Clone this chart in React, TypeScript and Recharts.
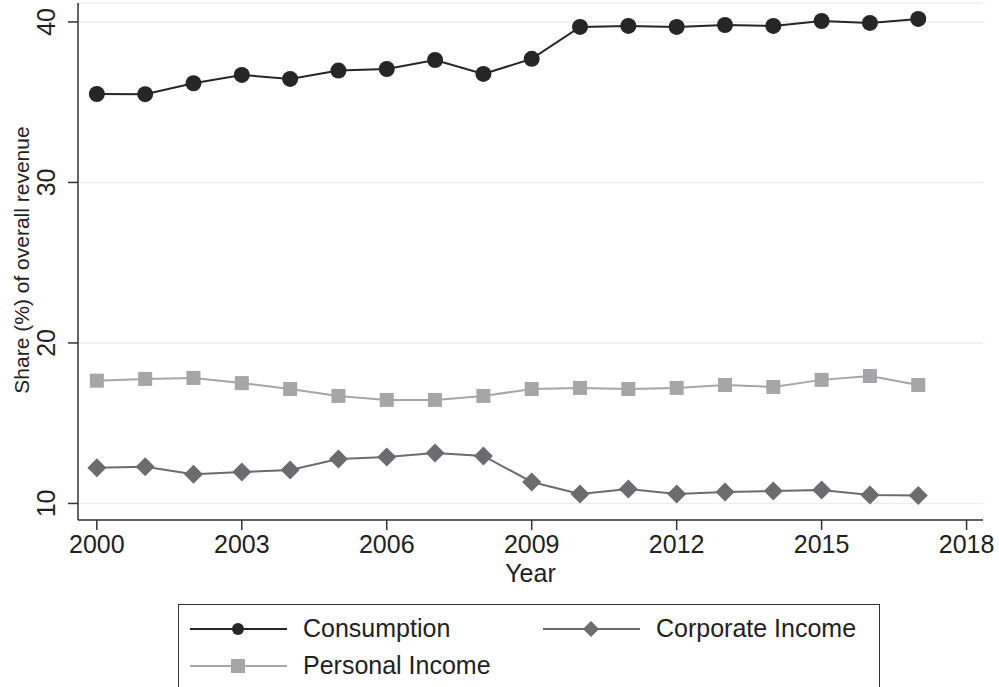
import React from 'react';
import { LineChart, Line, XAxis, YAxis, CartesianGrid } from 'recharts';

const years = [2000, 2001, 2002, 2003, 2004, 2005, 2006, 2007, 2008, 2009, 2010, 2011, 2012, 2013, 2014, 2015, 2016, 2017];
const consumption = [35.51, 35.5, 36.18, 36.7, 36.45, 36.97, 37.07, 37.63, 36.76, 37.7, 39.69, 39.75, 39.69, 39.81, 39.75, 40.06, 39.94, 40.19];
const corporateIncome = [12.23, 12.29, 11.82, 11.96, 12.09, 12.77, 12.9, 13.15, 12.96, 11.34, 10.59, 10.9, 10.59, 10.72, 10.78, 10.84, 10.53, 10.49];
const personalIncome = [17.65, 17.76, 17.82, 17.5, 17.13, 16.7, 16.45, 16.45, 16.7, 17.13, 17.2, 17.13, 17.2, 17.38, 17.26, 17.7, 17.94, 17.38];
const xTicks = [2000, 2003, 2006, 2009, 2012, 2015, 2018];
const yTicks = [10, 20, 30, 40];

const data = years.map((year, i) => ({
  year,
  consumption: consumption[i],
  corporate: corporateIncome[i],
  personal: personalIncome[i],
}));

const FONT = 'Arial, "Liberation Sans", Helvetica, sans-serif';
const TEXT = '#222';
const C_CONS = '#262626';
const C_CORP = '#6c6c6e';
const C_PERS = '#a6a6a8';

const CircleDot = (props: any) => {
  const { cx, cy } = props;
  if (cx == null || cy == null) return null;
  return <circle cx={cx} cy={cy} r={8} fill={C_CONS} />;
};

const DiamondDot = (props: any) => {
  const { cx, cy } = props;
  if (cx == null || cy == null) return null;
  const s = 9.5;
  return <polygon points={`${cx},${cy - s} ${cx + s},${cy} ${cx},${cy + s} ${cx - s},${cy}`} fill={C_CORP} />;
};

const SquareDot = (props: any) => {
  const { cx, cy } = props;
  if (cx == null || cy == null) return null;
  return <rect x={cx - 7} y={cy - 7} width={14} height={14} fill={C_PERS} />;
};

const YTick = (props: any) => {
  const { y, payload } = props;
  return (
    <text x={55} y={y} transform={`rotate(-90, 55, ${y})`} textAnchor="middle" fontSize={25} fill={TEXT} fontFamily={FONT}>
      {payload.value}
    </text>
  );
};

const LegendItem = ({ color, marker, label, width }: { color: string; marker: string; label: string; width: number }) => (
  <div style={{ display: 'flex', alignItems: 'center', width }}>
    <svg width={110} height={24} style={{ flex: 'none' }}>
      <line x1={0} y1={12} x2={97} y2={12} stroke={color} strokeWidth={2} />
      {marker === 'circle' && <circle cx={48} cy={12} r={6} fill={color} />}
      {marker === 'square' && <rect x={41} y={5} width={14} height={14} fill={color} />}
      {marker === 'diamond' && <polygon points="48,4 56,12 48,20 40,12" fill={color} />}
    </svg>
    <span style={{ marginLeft: 3, fontSize: 25, color: TEXT, fontFamily: FONT, whiteSpace: 'nowrap' }}>{label}</span>
  </div>
);

export default function App() {
  return (
    <div style={{ position: 'absolute', left: 0, top: 0, width: 999, height: 687, background: '#fff', overflow: 'hidden' }}>
      <LineChart width={999} height={687} data={data} margin={{ top: 3, right: 16, bottom: 107, left: 0 }}>
        <CartesianGrid vertical={false} stroke="#e6eff1" strokeWidth={1.5} />
        <XAxis
          dataKey="year"
          type="number"
          domain={[1999.61, 2018.34]}
          ticks={xTicks}
          allowDataOverflow
          height={60}
          tickSize={10}
          tickMargin={5}
          stroke="#333"
          strokeWidth={1.5}
          tick={{ fontSize: 25, fill: TEXT, fontFamily: FONT }}
          label={(p: any) => {
            const vb = p.viewBox || {};
            return (
              <text x={vb.x + vb.width / 2} y={vb.y + 62} textAnchor="middle" fontSize={25} fill={TEXT} fontFamily={FONT}>
                Year
              </text>
            );
          }}
        />
        <YAxis
          type="number"
          domain={[8.97, 41.18]}
          ticks={yTicks}
          allowDataOverflow
          width={78}
          tickSize={10}
          stroke="#333"
          strokeWidth={1.5}
          tick={<YTick />}
          label={() => (
            <text x={29} y={260} transform="rotate(-90, 29, 260)" textAnchor="middle" fontSize={21} fill={TEXT} fontFamily={FONT}>
              Share (%) of overall revenue
            </text>
          )}
        />
        <Line dataKey="consumption" stroke={C_CONS} strokeWidth={2} dot={<CircleDot />} activeDot={false} isAnimationActive={false} />
        <Line dataKey="corporate" stroke={C_CORP} strokeWidth={2} dot={<DiamondDot />} activeDot={false} isAnimationActive={false} />
        <Line dataKey="personal" stroke={C_PERS} strokeWidth={2} dot={<SquareDot />} activeDot={false} isAnimationActive={false} />
      </LineChart>
      <div
        style={{
          position: 'absolute',
          left: 178,
          top: 604,
          width: 702,
          height: 120,
          border: '1.5px solid #333',
          boxSizing: 'border-box',
          padding: '5px 0 0 11px',
        }}
      >
        <div style={{ display: 'flex', height: 37 }}>
          <LegendItem color={C_CONS} marker="circle" label="Consumption" width={353} />
          <LegendItem color={C_CORP} marker="diamond" label="Corporate Income" width={320} />
        </div>
        <div style={{ display: 'flex', height: 37 }}>
          <LegendItem color={C_PERS} marker="square" label="Personal Income" width={353} />
        </div>
      </div>
    </div>
  );
}
